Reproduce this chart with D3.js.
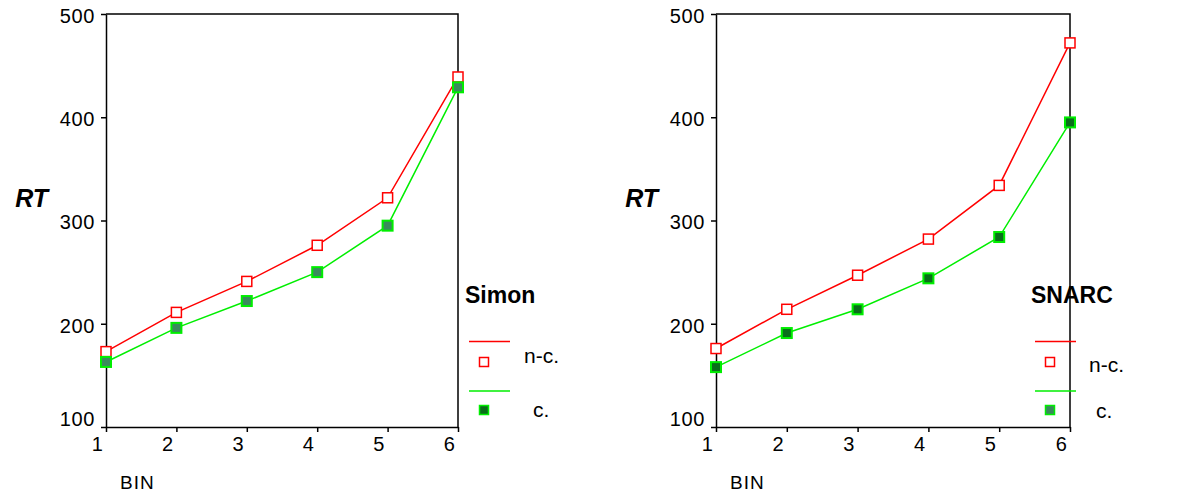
<!DOCTYPE html>
<html>
<head>
<meta charset="utf-8">
<script src="https://cdn.jsdelivr.net/npm/d3@7"></script>
<style>
  body { margin: 0; background: #fff; }
  svg { font-family: "Liberation Sans", Arial, sans-serif; }
  .tick text { font-size: 20px; fill: #000; letter-spacing: 0.6px; }
  .domain, .tick line { stroke: #000; stroke-width: 1.5px; }
</style>
</head>
<body>
<div id="visualization"></div>
<script>
const bins = [1, 2, 3, 4, 5, 6];
const yTicks = [100, 200, 300, 400, 500];

const simonNonCorr = [173, 211, 241, 276, 322, 439];
const simonCorr = [163, 196, 222, 250, 295, 429];
const snarcNonCorr = [176, 214, 247, 282, 334, 472];
const snarcCorr = [158, 191, 214, 244, 284, 395];

const svg = d3.select('#visualization').append('svg')
  .attr('width', 1177)
  .attr('height', 495);

render(svg, {left: 106, right: 458, title: 'Simon', nc: simonNonCorr, c: simonCorr,
  fill: '#3a8a5c', legFill: '#0a6e1a', legX: 465,
  ncLabelX: 524, ncLabelY: 363, cLabelX: 533, cLabelY: 417});
render(svg, {left: 716, right: 1070, title: 'SNARC', nc: snarcNonCorr, c: snarcCorr,
  fill: '#0a6e1a', legFill: '#3a8a5c', legX: 1031,
  ncLabelX: 1089, ncLabelY: 372, cLabelX: 1096, cLabelY: 418});

function render(svg, opt) {
  var top = 14, bottom = 427;

  var x = d3.scaleLinear()
            .domain([1, 6])
            .range([opt.left, opt.right]);

  var y = d3.scaleLinear()
            .domain([100, 500])
            .range([bottom, top]);

  var g = svg.append('g');

  // frame top and right
  g.append('path')
   .attr('d', 'M' + opt.left + ',' + top + 'H' + opt.right + 'V' + bottom)
   .attr('fill', 'none')
   .attr('stroke', '#000')
   .attr('stroke-width', 1.5);

  g.append('g')
   .attr('transform', 'translate(0,' + bottom + ')')
   .call(d3.axisBottom(x).tickValues(bins).tickFormat(d3.format('d'))
           .tickSize(5).tickPadding(5).tickSizeOuter(0))
   .call(a => a.selectAll('.tick text').attr('dx', '-9px'));

  g.append('g')
   .attr('transform', 'translate(' + opt.left + ',0)')
   .call(d3.axisLeft(y).tickValues(yTicks).tickSize(5).tickPadding(6).tickSizeOuter(0))
   .call(a => a.selectAll('.tick text')
               .attr('dy', d => d === 100 ? '-0.1em' : '0.42em'));

  // RT label
  g.append('text')
   .attr('x', opt.left - 58)
   .attr('y', 207)
   .attr('text-anchor', 'end')
   .attr('font-size', 25)
   .attr('font-weight', 'bold')
   .attr('font-style', 'italic')
   .text('RT');

  // BIN label
  g.append('text')
   .attr('x', opt.left + 14)
   .attr('y', 489)
   .attr('font-size', 19)
   .attr('letter-spacing', 1)
   .text('BIN');

  var line = d3.line()
               .x((d, i) => x(bins[i]))
               .y(d => y(d));

  g.append('path')
   .datum(opt.nc)
   .attr('d', line)
   .attr('fill', 'none')
   .attr('stroke', '#ff0000')
   .attr('stroke-width', 1.5);

  g.append('path')
   .datum(opt.c)
   .attr('d', line)
   .attr('fill', 'none')
   .attr('stroke', '#00ee00')
   .attr('stroke-width', 1.5);

  var s = 10;
  g.selectAll('.nc')
   .data(opt.nc)
   .enter().append('rect')
   .attr('x', (d, i) => x(bins[i]) - s / 2)
   .attr('y', d => y(d) - s / 2)
   .attr('width', s)
   .attr('height', s)
   .attr('fill', '#fff')
   .attr('stroke', '#ff0000')
   .attr('stroke-width', 1.5);

  g.selectAll('.c')
   .data(opt.c)
   .enter().append('rect')
   .attr('x', (d, i) => x(bins[i]) - s / 2)
   .attr('y', d => y(d) - s / 2)
   .attr('width', s)
   .attr('height', s)
   .attr('fill', opt.fill)
   .attr('stroke', '#00ee00')
   .attr('stroke-width', 2);

  // Legend
  var lg = g.append('g');
  lg.append('text')
    .attr('x', opt.legX)
    .attr('y', 303)
    .attr('font-size', 23)
    .attr('font-weight', 'bold')
    .text(opt.title);

  lg.append('line')
    .attr('x1', opt.legX + 4).attr('x2', opt.legX + 45)
    .attr('y1', 341.5).attr('y2', 341.5)
    .attr('stroke', '#ff0000').attr('stroke-width', 1.5);
  lg.append('rect')
    .attr('x', opt.legX + 19 - 4.5).attr('y', 362 - 4.5)
    .attr('width', 9).attr('height', 9)
    .attr('fill', '#fff').attr('stroke', '#ff0000').attr('stroke-width', 1.5);
  lg.append('text')
    .attr('x', opt.ncLabelX).attr('y', opt.ncLabelY)
    .attr('font-size', 21)
    .text('n-c.');

  lg.append('line')
    .attr('x1', opt.legX + 4).attr('x2', opt.legX + 45)
    .attr('y1', 391).attr('y2', 391)
    .attr('stroke', '#00ee00').attr('stroke-width', 1.5);
  lg.append('rect')
    .attr('x', opt.legX + 19 - 4.5).attr('y', 410 - 4.5)
    .attr('width', 9).attr('height', 9)
    .attr('fill', opt.legFill)
    .attr('stroke', '#00ee00').attr('stroke-width', 1.5);
  lg.append('text')
    .attr('x', opt.cLabelX).attr('y', opt.cLabelY)
    .attr('font-size', 21)
    .text('c.');
}
</script>
</body>
</html>
